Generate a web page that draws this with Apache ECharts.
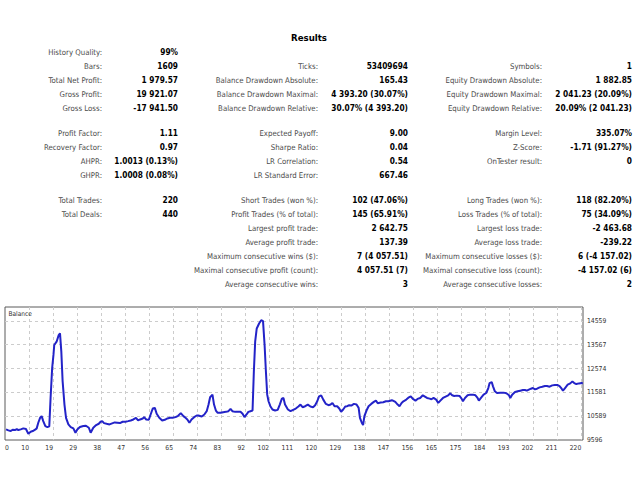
<!DOCTYPE html>
<html><head><meta charset="utf-8">
<script src="https://cdn.jsdelivr.net/npm/echarts@6/dist/echarts.min.js"></script>
<style>html,body{margin:0;padding:0;background:#fff}#c{width:640px;height:480px}</style>
</head><body><div id="c"></div>
<script>
// ---------- data ----------
const reportTitle = 'Results';
const col1Labels = ['History Quality:','Bars:','Total Net Profit:','Gross Profit:','Gross Loss:','Profit Factor:','Recovery Factor:','AHPR:','GHPR:','Total Trades:','Total Deals:','','','','',''];
const col1Values = ['99%','1609','1 979.57','19 921.07','-17 941.50','1.11','0.97','1.0013 (0.13%)','1.0008 (0.08%)','220','440','','','','',''];
const col2Labels = ['','Ticks:','Balance Drawdown Absolute:','Balance Drawdown Maximal:','Balance Drawdown Relative:','Expected Payoff:','Sharpe Ratio:','LR Correlation:','LR Standard Error:','Short Trades (won %):','Profit Trades (% of total):','Largest profit trade:','Average profit trade:','Maximum consecutive wins ($):','Maximal consecutive profit (count):','Average consecutive wins:'];
const col2Values = ['','53409694','165.43','4 393.20 (30.07%)','30.07% (4 393.20)','9.00','0.04','0.54','667.46','102 (47.06%)','145 (65.91%)','2 642.75','137.39','7 (4 057.51)','4 057.51 (7)','3'];
const col3Labels = ['','Symbols:','Equity Drawdown Absolute:','Equity Drawdown Maximal:','Equity Drawdown Relative:','Margin Level:','Z-Score:','OnTester result:','','Long Trades (won %):','Loss Trades (% of total):','Largest loss trade:','Average loss trade:','Maximum consecutive losses ($):','Maximal consecutive loss (count):','Average consecutive losses:'];
const col3Values = ['','1','1 882.85','2 041.23 (20.09%)','20.09% (2 041.23)','335.07%','-1.71 (91.27%)','0','','118 (82.20%)','75 (34.09%)','-2 463.68','-239.22','6 (-4 157.02)','-4 157.02 (6)','2'];

const seriesName = 'Balance';
const xLabels = ['0','10','19','29','38','47','56','65','74','83','92','102','111','120','129','138','147','156','165','175','184','193','202','211','220'];
const yLabels = ['9596','10589','11581','12574','13567','14559'];

const trades = [0.4,1.3,2.2,2.9,3.8,4.5,5.1,6.0,7.0,8.0,8.9,9.8,10.6,11.5,12.1,12.7,13.4,14.0,14.6,15.4,16.2,16.9,17.4,18.0,18.5,18.8,19.7,20.5,21.0,21.5,22.0,22.7,23.3,24.2,25.1,26.1,26.9,27.6,28.6,29.9,30.9,32.0,32.7,33.7,34.8,35.8,36.5,37.1,37.8,38.8,39.9,40.9,41.9,42.9,43.9,44.9,46.0,47.0,48.0,49.0,50.0,50.8,51.6,52.6,53.1,53.9,54.9,55.6,56.4,57.2,57.9,58.9,60.0,61.0,62.0,63.0,64.0,65.1,66.1,67.1,68.1,68.9,69.6,70.4,71.2,72.2,73.2,
73.8,75.1,76.1,77.0,77.7,78.3,79.2,79.8,80.5,81.2,82.3,83.3,84.3,85.3,86.1,86.8,87.9,88.9,89.9,90.7,91.4,92.2,92.9,93.7,94.5,95.0,95.5,96.1,97.0,97.8,98.5,99.1,99.6,100.1,100.6,101.3,102.1,103.1,104.1,104.9,105.7,106.3,106.9,108.0,109.0,110.0,111.0,112.0,112.8,113.6,114.6,115.6,116.6,117.6,118.4,119.2,119.9,120.7,121.5,122.5,123.5,124.3,125.0,125.8,126.8,127.6,128.3,129.1,129.9,130.6,131.4,132.2,133.2,134.2,135.0,135.5,136.2,136.7,137.2,138.0,138.8,139.8,140.8,141.6,142.3,143.4,144.4,145.4,146.4,147.7,
148.1,149.0,149.9,150.6,151.4,152.1,153.2,154.2,154.9,155.7,156.7,157.5,158.5,159.5,160.3,161.1,162.1,162.8,163.6,164.6,165.4,166.2,167.2,168.2,169.2,170.0,170.7,171.5,172.5,173.5,174.3,174.8,175.6,176.6,177.6,178.6,179.6,180.4,180.9,181.7,182.7,183.7,184.5,185.0,185.8,186.3,187.0,187.8,189.1,190.3,191.4,192.4,192.9,193.6,194.7,195.7,196.7,197.7,198.5,199.2,200.0,200.8,201.5,202.3,203.1,204.1,205.1,206.1,206.9,207.9,208.9,209.9,211.0,211.7,212.5,213.0,213.8,214.8,215.8,216.6,217.3,218.1,219.1,220.1,220.6];
const balance = [10038,9997,9969,10024,10011,10052,10011,10038,10080,10052,9859,9942,9969,10024,10080,10314,10521,10590,10383,10176,10135,10163,11348,12589,13141,13554,13692,13968,14037,13278,12038,11072,10521,10245,10135,10080,9900,10038,10135,10176,10190,10107,9900,10107,10218,10273,10356,10383,10300,10273,10245,10287,10328,10314,10300,10356,10356,10383,10411,10452,10521,10411,10452,10493,10549,10452,10438,10659,10907,10935,10687,10521,10411,10438,10493,10521,10521,10549,10604,10714,10590,10521,10452,10314,10452,10549,10618,
10618,10576,10659,10797,11072,11376,11486,11072,10824,10728,10728,10755,10769,10797,10893,10797,10769,10769,10769,10687,10549,10659,10769,10797,10824,12451,13692,14243,14450,14588,14547,13554,12451,11486,11210,11004,10866,10824,10852,11072,11321,11348,11072,10866,10797,10852,10907,10990,11072,10962,11004,11072,10990,10962,11045,11210,11417,11458,11279,11100,11045,11072,11141,11004,11004,10907,10769,10866,10990,11004,11045,11031,11100,11072,10935,10521,10314,10218,10590,10824,11004,11100,11183,11238,11128,11155,11169,11210,11210,11252,
11238,11183,11072,11004,11141,11210,11279,11376,11417,11307,11238,11307,11348,11458,11403,11348,11321,11293,11348,11279,11141,11238,11348,11403,11458,11541,11458,11431,11445,11431,11321,11210,11348,11458,11486,11486,11458,11348,11238,11348,11486,11555,11762,11969,12010,11831,11624,11555,11569,11569,11541,11458,11348,11486,11596,11624,11652,11679,11679,11652,11693,11734,11762,11707,11734,11790,11817,11845,11845,11817,11872,11886,11886,11845,11734,11652,11762,11900,11955,12038,11969,11927,11955,11969,11955];

// axis scale settings
const xMin = 0, xMax = 220.65, xStep = 220 / 24;
const yMin = 9596, yMax = 15138, yStep = 992.6;

// ---------- layout / style ----------
const FAM = "'DejaVu Sans Condensed', 'DejaVu Sans', sans-serif";
const ctx = document.createElement('canvas').getContext('2d');
function fit(text, weight, target) {
  ctx.font = weight + ' 20px ' + FAM;
  return 20 * target / ctx.measureText(text).width;
}
const labelSize = fit('Balance Drawdown Relative:', 'normal', 100);
const valueSize = fit('4 393.20 (30.07%)', 'bold', 76.7);
const titleSize = fit('Results', 'bold', 36);
const axisSize = fit('14559', 'normal', 19.3);
const legendSize = fit('Balance', 'normal', 23.4);

const rowY = [52,66,80,94,108,133,147,161,175,200,214,228,242,256,270,284];
const labelRight = [102, 318, 542];
const valueRight = [178, 408, 632];
const cols = [[col1Labels, col1Values],[col2Labels, col2Values],[col3Labels, col3Values]];

const graphics = [{
  type: 'text', x: 309, y: 37,
  style: { text: reportTitle, align: 'center', verticalAlign: 'middle', fill: '#000',
    fontFamily: FAM, fontWeight: 'bold', fontSize: titleSize }
}];
cols.forEach(([labs, vals], c) => {
  rowY.forEach((y, r) => {
    if (labs[r]) graphics.push({ type: 'text', x: labelRight[c], y,
      style: { text: labs[r], align: 'right', verticalAlign: 'middle', fill: '#4a4a4a',
        fontFamily: FAM, fontSize: labelSize } });
    if (vals[r]) graphics.push({ type: 'text', x: valueRight[c], y,
      style: { text: vals[r], align: 'right', verticalAlign: 'middle', fill: '#000',
        fontFamily: FAM, fontWeight: 'bold', fontSize: valueSize } });
  });
});
graphics.push({ type: 'text', x: 8.5, y: 313.5, z: 10,
  style: { text: seriesName, align: 'left', verticalAlign: 'middle', fill: '#333',
    fontFamily: FAM, fontSize: legendSize } });

const chart = echarts.init(document.getElementById('c'), null, { renderer: 'svg' });
chart.setOption({
  animation: false,
  backgroundColor: '#fff',
  grid: { left: 5, right: 57, top: 307, bottom: 40, show: true, borderColor: '#5a5a5a', borderWidth: 1, backgroundColor: '#fff' },
  graphic: graphics,
  xAxis: {
    type: 'value', min: xMin, max: xMax, interval: xStep,
    axisLine: { show: false }, axisTick: { show: false },
    axisLabel: {
      fontFamily: FAM, fontSize: axisSize, color: '#333', margin: 4,
      align: 'right', alignMinLabel: 'left',
      formatter: v => { const i = Math.round(v / xStep); return (Math.abs(v - i * xStep) < 0.01 && i < xLabels.length) ? xLabels[i] : ''; }
    },
    splitLine: { show: true, showMinLine: false, showMaxLine: false, lineStyle: { color: '#cccccc', type: [3, 3], width: 1 } }
  },
  yAxis: {
    type: 'value', position: 'right', min: yMin, max: yMax, interval: yStep,
    axisLine: { show: false }, axisTick: { show: false },
    axisLabel: {
      fontFamily: FAM, fontSize: axisSize, color: '#333', margin: 4,
      formatter: v => { const i = Math.round((v - yMin) / yStep); return (Math.abs(v - yMin - i * yStep) < 0.5 && i < yLabels.length) ? yLabels[i] : ''; }
    },
    splitLine: { show: true, showMinLine: false, showMaxLine: false, lineStyle: { color: '#cccccc', type: [3, 3], width: 1 } }
  },
  series: [{
    name: seriesName, type: 'line', showSymbol: false, silent: true,
    data: trades.map((t, i) => [t, balance[i]]),
    lineStyle: { color: '#2323c8', width: 2 }
  }]
});
</script>
</body></html>
